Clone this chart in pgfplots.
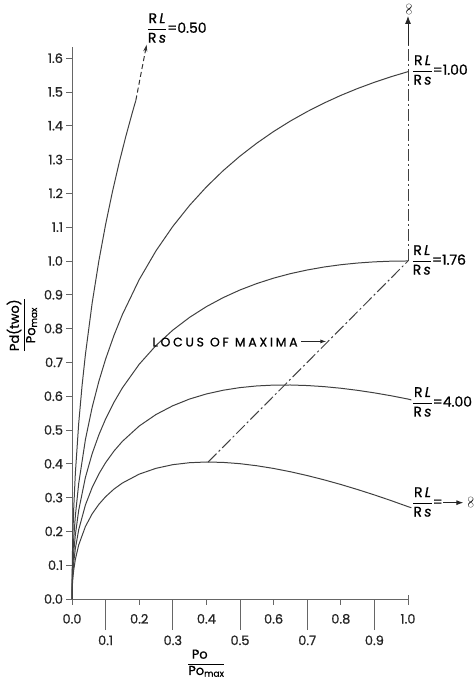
\documentclass[border=0pt]{standalone}
\usepackage{amsmath}
\usepackage{pgfplots}
\pgfplotsset{compat=1.18}
\usepackage{fontspec}
\setmainfont{Poppins}[FakeBold=0.9]
\newfontfamily\locusfont{Poppins}[FakeBold=0.9, LetterSpace=22]
\usetikzlibrary{arrows.meta}
\newcommand{\rr}{\ensuremath{\dfrac{\text{R\,\textit{L}}}{\text{R\,\textit{s}}}}}
\newcommand{\lab}{\fontsize{13}{15}\selectfont}
\newcommand{\clab}{\fontsize{14}{16}\selectfont}
\newcommand{\bigfont}{\fontsize{13}{14}\selectfont}
\newcommand{\lfont}{\locusfont\fontsize{12.5}{14}\selectfont}
\begin{document}
\begin{tikzpicture}
\useasboundingbox (-72bp,-83bp) rectangle (403bp,599bp);
\begin{axis}[
  scale only axis, width=336bp, height=552bp,
  xmin=0, xmax=1, ymin=0, ymax=1.633,
  axis x line*=bottom, axis y line*=left,
  axis line style={black!60, line width=0.9pt},
  xtick={0,0.2,0.4,0.6,0.8,1.0},
  xticklabel style={yshift=-6bp},
  extra x ticks={0.1,0.3,0.5,0.7,0.9},
  extra x tick style={major tick length=31bp, xticklabel style={yshift=4bp}},
  ytick={0,0.1,0.2,0.3,0.4,0.5,0.6,0.7,0.8,0.9,1.0,1.1,1.2,1.3,1.4,1.5,1.6},
  tick align=outside, major tick length=5.5bp,
  tick style={black!60, line width=0.8pt},
  /pgf/number format/fixed, /pgf/number format/fixed zerofill,
  /pgf/number format/precision=1, /pgf/number format/assume math mode=true,
  ticklabel style={font=\lab, text=black!85},
  clip=false,
  curve/.style={black!75, line width=1pt},
  locus/.style={black!75, line width=1pt, dash pattern=on 12bp off 3bp on 2bp off 3bp},
]
% RL/Rs = infinity
\addplot[curve] coordinates {(0,0) (0.001,0.0393) (0.0025,0.0612) (0.005,0.0850) (0.01,0.1173) (0.02,0.1601) (0.04,0.2146) (0.06,0.2519) (0.08,0.2801) (0.1,0.3026) (0.125,0.3252) (0.15,0.3431) (0.2,0.3694) (0.25,0.3866) (0.3,0.3974) (0.35,0.4032) (0.4,0.4053) (0.45,0.4041) (0.5,0.4003) (0.55,0.3942) (0.6,0.3862) (0.65,0.3765) (0.7,0.3652) (0.75,0.3526) (0.8,0.3388) (0.85,0.3238) (0.9,0.3079) (0.95,0.2910) (1.0,0.2732) (1.01,0.270)};
% RL/Rs = 4.00
\addplot[curve] coordinates {(0,0) (0.001,0.0493) (0.0025,0.0771) (0.005,0.1075) (0.01,0.1492) (0.02,0.2051) (0.04,0.2783) (0.06,0.3298) (0.08,0.3701) (0.1,0.4033) (0.125,0.4377) (0.15,0.4664) (0.2,0.5117) (0.25,0.5458) (0.3,0.5717) (0.35,0.5916) (0.4,0.6066) (0.45,0.6176) (0.5,0.6254) (0.55,0.6303) (0.6,0.6328) (0.65,0.6331) (0.7,0.6315) (0.75,0.6283) (0.8,0.6235) (0.85,0.6173) (0.9,0.6098) (0.95,0.6012) (1.0,0.5915) (1.01,0.589)};
% RL/Rs = 1.76
\addplot[curve] coordinates {(0,0) (0.001,0.0622) (0.0025,0.0975) (0.005,0.1364) (0.01,0.19) (0.02,0.2628) (0.04,0.36) (0.06,0.4299) (0.08,0.4857) (0.1,0.5325) (0.125,0.5821) (0.15,0.6246) (0.2,0.6944) (0.25,0.75) (0.3,0.7954) (0.35,0.8332) (0.4,0.8649) (0.45,0.8916) (0.5,0.9142) (0.55,0.9332) (0.6,0.9492) (0.65,0.9625) (0.7,0.9733) (0.75,0.9821) (0.8,0.9889) (0.85,0.9939) (0.9,0.9974) (0.95,0.9994) (1.0,1.0)};
% RL/Rs = 1.00
\addplot[curve] coordinates {(0,0) (0.001,0.0800) (0.0025,0.1255) (0.005,0.1760) (0.01,0.2460) (0.02,0.3420) (0.04,0.4720) (0.06,0.5671) (0.08,0.6441) (0.1,0.7096) (0.125,0.7801) (0.15,0.8415) (0.2,0.9448) (0.25,1.0301) (0.3,1.1022) (0.35,1.1645) (0.4,1.2191) (0.45,1.2673) (0.5,1.3102) (0.55,1.3485) (0.6,1.3830) (0.65,1.4140) (0.7,1.4419) (0.75,1.4671) (0.8,1.4898) (0.85,1.5102) (0.9,1.5286) (0.95,1.5452) (1.0,1.5600)};
% RL/Rs = 0.50
\addplot[curve] coordinates {(0,0) (0.001,0.1198) (0.0025,0.1885) (0.005,0.2651) (0.01,0.3720) (0.02,0.5202) (0.03,0.6316) (0.04,0.7239) (0.06,0.8756) (0.08,1.0004) (0.1,1.1079) (0.12,1.2032) (0.14,1.2892) (0.16,1.3679) (0.18,1.4406) (0.19,1.4750)};
\addplot[black!80, line width=1pt, dash pattern=on 5bp off 3bp, -{Stealth[length=7bp,width=4bp]}] coordinates {(0.19,1.4750) (0.222,1.640)};
% locus of maxima
\addplot[locus] coordinates {(0.405,0.405) (1,1)};
\addplot[locus] coordinates {(1,1) (1,1.645)};
\addplot[black!85, line width=1pt, -{Latex[length=8bp,width=6bp]}] coordinates {(1,1.64) (1,1.725)};
\addplot[black!60, line width=0.9pt] coordinates {(1,0) (1,0.012)};
% labels
\node[anchor=west, inner sep=0pt, font=\clab] at (axis cs:0.222,1.689) {\rr=0.50};
\node[anchor=west, inner sep=0pt, font=\clab] at (axis cs:1.012,1.565) {\rr=1.00};
\node[anchor=west, inner sep=0pt, font=\clab] at (axis cs:1.010,1.003) {\rr=1.76};
\node[anchor=west, inner sep=0pt, font=\clab] at (axis cs:1.012,0.583) {\rr=4.00};
\node[anchor=west, inner sep=0pt, font=\clab] at (axis cs:1.012,0.287) {\rr=};
\draw[black!85, line width=1pt, -{Latex[length=7bp,width=5bp]}] (axis cs:1.105,0.285) -- (axis cs:1.165,0.285);
\node[inner sep=0pt, rotate=90, font=\bigfont] at (axis cs:1.187,0.285) {\(\infty\)};
\node[inner sep=0pt, rotate=90, font=\bigfont] at (axis cs:1.003,1.745) {\(\infty\)};
\node[anchor=east, inner sep=0pt, font=\lfont] at (axis cs:0.672,0.76) {LOCUS OF MAXIMA};
\draw[black!85, line width=0.9pt, -{Latex[length=6bp,width=4bp]}] (axis cs:0.682,0.762) -- (axis cs:0.757,0.762);
\node[font=\lab] at (axis cs:0.400,-0.19) {\(\dfrac{\text{Po}\hphantom{\text{m}}}{\text{Po}_{\text{max}}}\)};
\node[font=\lab, rotate=90] at (axis cs:-0.149,0.81) {\(\dfrac{\text{Pd(two)}}{\text{Po}_{\text{max}}}\)};
\end{axis}
\end{tikzpicture}
\end{document}
